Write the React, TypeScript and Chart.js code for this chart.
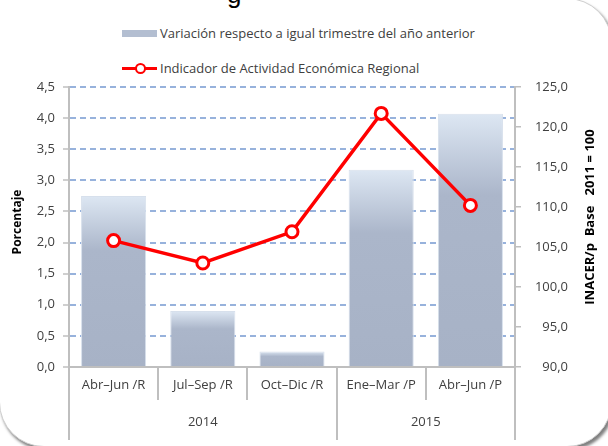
import React, { useEffect, useRef } from "react";
import { Chart, registerables } from "chart.js";

Chart.register(...registerables);

// ---- data ----
const categories = ["Abr–Jun /R", "Jul–Sep /R", "Oct–Dic /R", "Ene–Mar /P", "Abr–Jun /P"];
const years = ["2014", "2015"];
const yearSpans = [3, 2];
const variacion = [2.75, 0.9, 0.25, 3.17, 4.07];
const inacer = [105.8, 103.0, 106.9, 121.7, 110.2];
const leftRange = [0, 4.5, 0.5];
const rightRange = [90, 125, 5];
const barLabel = "Variación respecto a igual trimestre del año anterior";
const lineLabel = "Indicador de Actividad Económica Regional";
const leftTitle = "Porcentaje";
const rightTitle = "INACER/p  Base   2011 = 100";

const FONT = "'Open Sans', sans-serif";
const TEXT = "#404040";
const AXIS = "#bfbfbf";
const GRID = "#97b2dc";

const fmt = (v: number) => Number(v).toFixed(1).replace(".", ",");

export default function App() {
  const ref = useRef<HTMLCanvasElement>(null);

  useEffect(() => {
    const canvas = ref.current;
    if (!canvas) return;

    const decor = {
      id: "decor",
      afterDraw(chart: any) {
        const ctx = chart.ctx;
        const x = chart.scales.x;
        const area = chart.chartArea;
        const n = categories.length;
        const w = (x.right - x.left) / n;
        ctx.save();
        ctx.strokeStyle = AXIS;
        ctx.lineWidth = 2;
        const bounds = [0];
        let acc = 0;
        yearSpans.forEach((s) => {
          acc += s;
          bounds.push(acc);
        });
        bounds.forEach((b) => {
          const px = Math.round(x.left + b * w);
          ctx.beginPath();
          ctx.moveTo(px, area.bottom + 33);
          ctx.lineTo(px, area.bottom + 73);
          ctx.stroke();
        });
        ctx.fillStyle = TEXT;
        ctx.font = `13px ${FONT}`;
        ctx.textAlign = "center";
        ctx.textBaseline = "middle";
        years.forEach((yr, i) => {
          const cx = x.left + ((bounds[i] + bounds[i + 1]) / 2) * w;
          ctx.fillText(yr, cx, area.bottom + 55);
        });
        ctx.fillStyle = "#000";
        ctx.font = `bold 12px ${FONT}`;
        ctx.save();
        ctx.translate(18, 222);
        ctx.rotate(-Math.PI / 2);
        ctx.fillText(leftTitle, 0, 0);
        ctx.restore();
        ctx.font = `bold 13px ${FONT}`;
        ctx.save();
        ctx.translate(590, 217);
        ctx.rotate(-Math.PI / 2);
        ctx.fillText(rightTitle, 0, 0);
        ctx.restore();
        ctx.restore();
      },
    };

    const barColor = (c: any) => {
      const chart = c.chart;
      const ys = chart.scales.y;
      if (!chart.chartArea || !ys || c.raw == null) return "#aab5c9";
      const top = ys.getPixelForValue(c.raw);
      const bot = ys.getPixelForValue(0);
      if (!isFinite(top) || !isFinite(bot) || bot - top < 1) return "#aab5c9";
      const g = chart.ctx.createLinearGradient(0, top, 0, bot);
      g.addColorStop(0, "#dde7f3");
      g.addColorStop(0.32, "#abb6ca");
      g.addColorStop(1, "#a7b2c6");
      return g;
    };

    const chart = new Chart(canvas, {
      type: "bar",
      data: {
        labels: categories,
        datasets: [
          {
            type: "line",
            label: lineLabel,
            data: inacer,
            yAxisID: "y1",
            borderColor: "#ff0000",
            borderWidth: 3.5,
            pointRadius: 6,
            pointBorderWidth: 3,
            pointBackgroundColor: "#ffffff",
            pointBorderColor: "#ff0000",
            tension: 0,
            order: 0,
          },
          {
            type: "bar",
            label: barLabel,
            data: variacion,
            yAxisID: "y",
            backgroundColor: barColor,
            borderColor: "#d7e0ec",
            borderWidth: 1,
            categoryPercentage: 1,
            barPercentage: 0.73,
            order: 1,
          },
        ],
      } as any,
      options: {
        responsive: false,
        maintainAspectRatio: false,
        animation: false,
        layout: { padding: { top: 87, left: 0, right: 40, bottom: 0 } },
        plugins: {
          legend: { display: false },
          title: { display: false },
          tooltip: { enabled: false },
        },
        scales: {
          x: {
            type: "category",
            offset: true,
            afterFit: (s: any) => {
              s.height = 79;
            },
            grid: {
              offset: true,
              drawOnChartArea: false,
              drawTicks: true,
              tickLength: 33,
              color: AXIS,
              lineWidth: 2,
            },
            border: { display: true, color: AXIS, width: 2 },
            ticks: {
              padding: -23,
              autoSkip: false,
              maxRotation: 0,
              minRotation: 0,
              color: TEXT,
              font: { family: FONT, size: 13 },
            },
          },
          y: {
            position: "left",
            min: leftRange[0],
            max: leftRange[1],
            afterFit: (s: any) => {
              s.width = 69;
            },
            ticks: {
              stepSize: leftRange[2],
              padding: 8,
              color: TEXT,
              font: { family: FONT, size: 13 },
              callback: (v: any) => fmt(v),
            },
            grid: {
              color: (c: any) => (c.tick && c.tick.value === 0 ? "rgba(0,0,0,0)" : GRID),
              lineWidth: 2,
              tickLength: 6,
              tickColor: AXIS,
              tickWidth: 1.5,
            },
            border: { display: true, color: AXIS, width: 2, dash: [6, 4] },
          },
          y1: {
            position: "right",
            min: rightRange[0],
            max: rightRange[1],
            afterFit: (s: any) => {
              s.width = 53;
            },
            ticks: {
              stepSize: rightRange[2],
              padding: 8,
              crossAlign: "far",
              color: TEXT,
              font: { family: FONT, size: 13 },
              callback: (v: any) => fmt(v),
            },
            grid: {
              drawOnChartArea: false,
              tickLength: 6,
              color: AXIS,
              lineWidth: 1.5,
            },
            border: { display: true, color: AXIS, width: 2 },
          },
        },
      } as any,
      plugins: [decor],
    });

    return () => chart.destroy();
  }, []);

  const legendText: React.CSSProperties = {
    position: "absolute",
    left: 160,
    fontFamily: FONT,
    fontSize: 13,
    color: TEXT,
    whiteSpace: "nowrap",
    lineHeight: "16px",
  };

  return (
    <div
      style={{
        position: "absolute",
        left: 0,
        top: 0,
        width: 608,
        height: 446,
        overflow: "hidden",
        background: "#ffffff",
      }}
    >
      <div
        style={{
          position: "absolute",
          left: -1,
          top: -2,
          width: 613,
          height: 449,
          boxSizing: "border-box",
          borderRadius: "0 45px 45px 45px",
          border: "1px solid #cfcfcf",
          boxShadow: "2px 3px 3px rgba(0,0,0,0.5)",
          background: "#ffffff",
        }}
      />
      <span
        style={{
          position: "absolute",
          left: 227,
          top: -21,
          fontFamily: "'Liberation Sans', sans-serif",
          fontSize: 26,
          lineHeight: "30px",
          color: "#000",
        }}
      >
        g
      </span>
      <div
        style={{
          position: "absolute",
          left: 122,
          top: 30,
          width: 35,
          height: 7,
          background: "#b3bed1",
        }}
      />
      <div style={{ ...legendText, top: 25 }}>{barLabel}</div>
      <div
        style={{
          position: "absolute",
          left: 122,
          top: 67,
          width: 35,
          height: 3,
          background: "#ff0000",
        }}
      />
      <div
        style={{
          position: "absolute",
          left: 135,
          top: 63,
          width: 7,
          height: 7,
          borderRadius: "50%",
          border: "2.5px solid #ff0000",
          background: "#ffffff",
        }}
      />
      <div style={{ ...legendText, top: 60 }}>{lineLabel}</div>
      <canvas
        ref={ref}
        width={608}
        height={446}
        style={{ position: "absolute", left: 0, top: 0, width: 608, height: 446 }}
      />
    </div>
  );
}
